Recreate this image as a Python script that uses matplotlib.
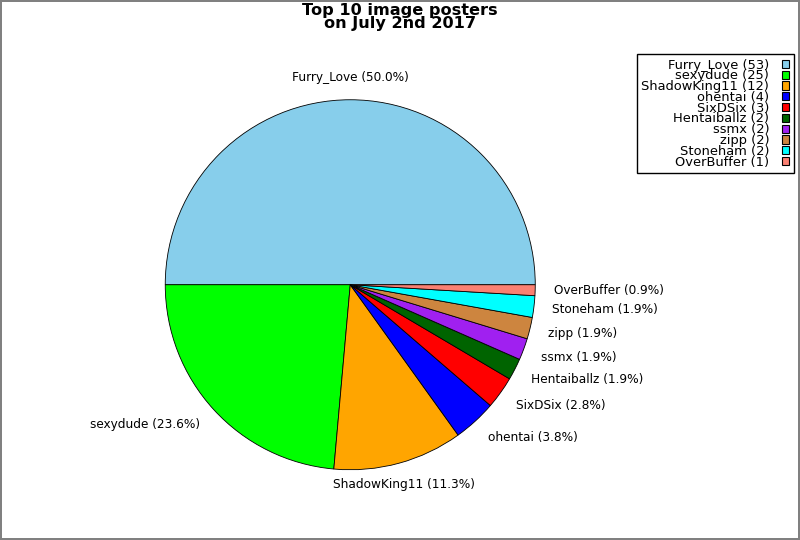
import matplotlib
matplotlib.use("Agg")
import matplotlib.pyplot as plt
import numpy as np

names = ["Furry_Love", "sexydude", "ShadowKing11", "ohentai", "SixDSix",
         "Hentaiballz", "ssmx", "zipp", "Stoneham", "OverBuffer"]
counts = [53, 25, 12, 4, 3, 2, 2, 2, 2, 1]
colors = ["#87CEEB", "#00FF00", "#FFA500", "#0000FF", "#FF0000",
          "#006400", "#A020F0", "#CD853F", "#00FFFF", "#FA8072"]

total = sum(counts)
pie_labels = [f"{n} ({c / total * 100:.1f}%)" for n, c in zip(names, counts)]
legend_labels = [f"{n} ({c})" for n, c in zip(names, counts)]

fig = plt.figure(figsize=(8, 5.4), dpi=100, edgecolor="#808080", linewidth=1.5)
ax = fig.add_axes([119 / 800, 24 / 540, 462.5 / 800, 462.5 / 540])
wedges, texts = ax.pie(counts, labels=pie_labels, colors=colors, startangle=0,
                       counterclock=True, labeldistance=1.1,
                       wedgeprops=dict(edgecolor="black", linewidth=0.6),
                       textprops=dict(fontsize=8.7))
for w, t in zip(wedges, texts):
    mid = np.deg2rad((w.theta1 + w.theta2) / 2)
    if abs(np.cos(mid)) < 0.3:
        t.set_ha("center")
    x, y = t.get_position()
    t.set_position((x, y * 1.02))
ax.set_xlim(-1.25, 1.25)
ax.set_ylim(-1.25, 1.25)
ax.set_aspect("equal")

fig.suptitle("Top 10 image posters\non July 2nd 2017", fontsize=11.6,
             fontweight="bold", y=0.994, linespacing=0.85)

leg = fig.legend(wedges, legend_labels, loc="upper right",
                 bbox_to_anchor=(794 / 800, 1 - 54 / 540),
                 markerfirst=False, fontsize=9.4, labelspacing=-0.17,
                 handlelength=0.55, handleheight=0.6, handletextpad=1.0,
                 borderpad=0.35, borderaxespad=0.0, fancybox=False,
                 framealpha=1, edgecolor="black")
for t in leg.get_texts():
    t.set_ha("right")
leg._legend_box.align = "right"
for h in leg.legend_handles:
    h.set_edgecolor("black")
    h.set_linewidth(0.8)

fig.savefig("out.png", dpi=100, edgecolor=fig.get_edgecolor())
